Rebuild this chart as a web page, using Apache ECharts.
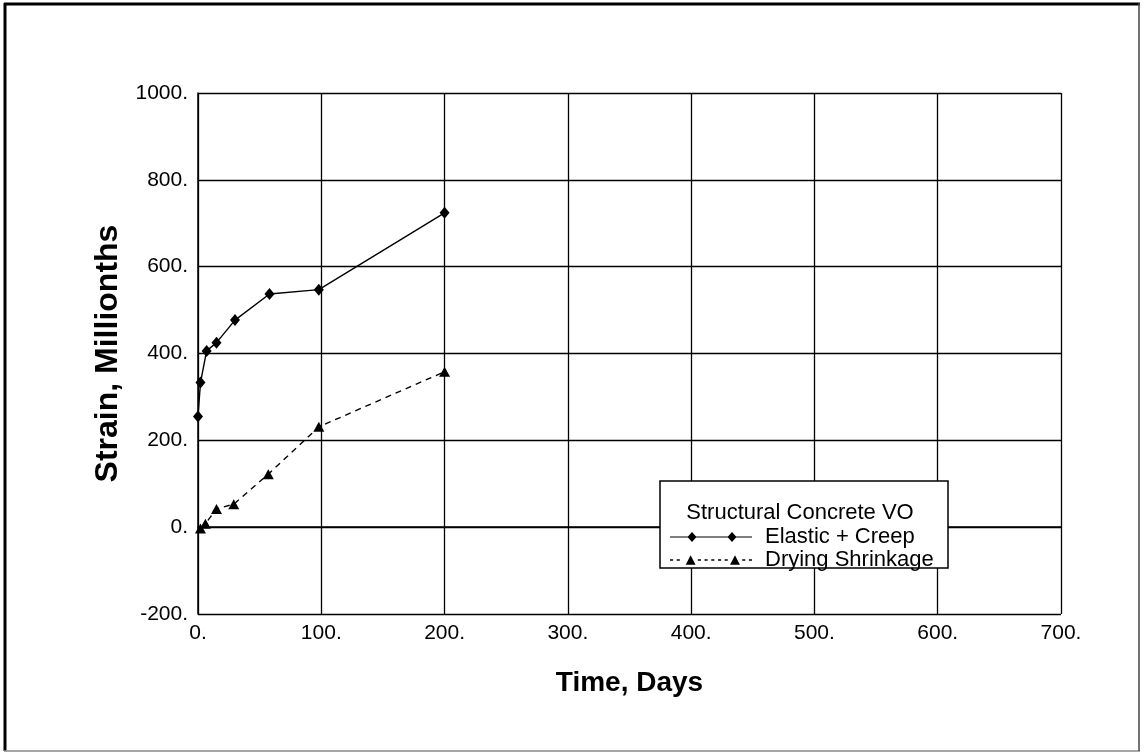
<!DOCTYPE html>
<html>
<head>
<meta charset="utf-8">
<script src="https://cdn.jsdelivr.net/npm/echarts@6/dist/echarts.min.js"></script>
<style>
  html, body { margin: 0; padding: 0; background: #fff; }
  #chart { width: 1144px; height: 753px; }
</style>
</head>
<body>
<div id="chart"></div>
<script>
// Strain measurements for the VO structural concrete specimens
const elasticDays = [0, 2, 7, 15, 30, 58, 98, 200];
const elasticStrain = [255, 333, 406, 425, 477, 537, 547, 724];
const shrinkDays = [2, 6, 15, 29, 57, 98, 200];
const shrinkStrain = [-3, 8, 42, 53, 122, 231, 358];

const xTicks = [0, 100, 200, 300, 400, 500, 600, 700];
const yTicks = [-200, 0, 200, 400, 600, 800, 1000];

const legendTitle = 'Structural Concrete VO';
const seriesNames = ['Elastic + Creep', 'Drying Shrinkage'];

const FONT = '"Liberation Sans", Arial, Helvetica, sans-serif';

// Legend sample icons: a line with two markers, 82 x 10 box
function diamond(cx) {
  return 'M' + cx + ',0 L' + (cx + 4.5) + ',5 L' + cx + ',10 L' + (cx - 4.5) + ',5 Z ';
}
function triangle(cx) {
  return 'M' + cx + ',0.5 L' + (cx + 4.8) + ',9.5 L' + (cx - 4.8) + ',9.5 Z ';
}
const solidIcon = 'path://M0,4.4 L82,4.4 L82,5.6 L0,5.6 Z ' + diamond(22) + diamond(62);
let dashed = '';
[0, 6.5, 27, 33.5, 40, 46.5, 53, 70, 76.5].forEach(function (s) {
  dashed += 'M' + s + ',4.3 L' + (s + 3) + ',4.3 L' + (s + 3) + ',5.7 L' + s + ',5.7 Z ';
});
const dashIcon = 'path://' + dashed + triangle(20) + triangle(63);

const pairs = (xs, ys) => xs.map((x, i) => [x, ys[i]]);

const chart = echarts.init(document.getElementById('chart'), null, { renderer: 'canvas' });

chart.setOption({
  animation: false,
  backgroundColor: '#ffffff',
  textStyle: { fontFamily: FONT, color: '#000' },
  grid: { left: 198, top: 93, right: 83, bottom: 139, containLabel: false },
  xAxis: {
    type: 'value',
    min: xTicks[0],
    max: xTicks[xTicks.length - 1],
    interval: 100,
    name: 'Time, Days',
    nameLocation: 'middle',
    nameGap: 55,
    nameTextStyle: { fontFamily: FONT, fontSize: 28, fontWeight: 'bold', color: '#000' },
    axisLine: { show: true, lineStyle: { color: '#000', width: 1.5 } },
    axisTick: { show: false },
    axisLabel: { fontFamily: FONT, fontSize: 21, color: '#000', margin: 9, formatter: v => v + '.' },
    splitLine: { show: true, lineStyle: { color: '#000', width: 1.3 } }
  },
  yAxis: {
    type: 'value',
    min: yTicks[0],
    max: yTicks[yTicks.length - 1],
    interval: 200,
    name: 'Strain, Millionths',
    nameLocation: 'middle',
    nameGap: 66,
    nameRotate: 90,
    nameTextStyle: { fontFamily: FONT, fontSize: 32, fontWeight: 'bold', color: '#000' },
    axisLine: { show: true, lineStyle: { color: '#000', width: 1.5 } },
    axisTick: { show: false },
    axisLabel: { fontFamily: FONT, fontSize: 21, color: '#000', margin: 10, formatter: v => v + '.' },
    splitLine: { show: true, lineStyle: { color: '#000', width: 1.3 } }
  },
  legend: {
    orient: 'vertical',
    left: 670,
    top: 526,
    itemWidth: 82,
    itemHeight: 10,
    itemGap: 1,
    padding: 0,
    z: 10,
    selectedMode: false,
    textStyle: { fontFamily: FONT, fontSize: 22, color: '#000', padding: [0, 0, 0, 8] },
    itemStyle: { borderWidth: 0 },
    data: [
      { name: seriesNames[0], icon: solidIcon },
      { name: seriesNames[1], icon: dashIcon }
    ]
  },
  graphic: [
    // legend box
    {
      type: 'rect', z: 8,
      shape: { x: 660, y: 481, width: 288, height: 87 },
      style: { fill: '#fff', stroke: '#000', lineWidth: 1.5 }
    },
    {
      type: 'text', z: 11,
      x: 800, y: 513,
      style: {
        text: legendTitle, fill: '#000', font: '22px ' + FONT,
        textAlign: 'center', textVerticalAlign: 'middle'
      }
    },
    // page frame
    { type: 'line', z: 20, shape: { x1: 4, y1: 4, x2: 1140, y2: 4 }, style: { stroke: '#000', lineWidth: 3 } },
    { type: 'line', z: 20, shape: { x1: 5, y1: 3, x2: 5, y2: 751 }, style: { stroke: '#000', lineWidth: 3 } },
    { type: 'line', z: 20, shape: { x1: 4, y1: 751, x2: 1140, y2: 751 }, style: { stroke: '#888', lineWidth: 1.5 } },
    { type: 'line', z: 20, shape: { x1: 1139, y1: 3, x2: 1139, y2: 751 }, style: { stroke: '#444', lineWidth: 1.5 } }
  ],
  series: [
    {
      name: seriesNames[0],
      type: 'line',
      data: pairs(elasticDays, elasticStrain),
      symbol: 'diamond',
      symbolSize: [10, 12],
      z: 3,
      itemStyle: { color: '#000', borderWidth: 0 },
      lineStyle: { color: '#000', width: 1.4, type: 'solid' }
    },
    {
      name: seriesNames[1],
      type: 'line',
      data: pairs(shrinkDays, shrinkStrain),
      symbol: 'triangle',
      symbolSize: [11, 10],
      z: 3,
      itemStyle: { color: '#000', borderWidth: 0 },
      lineStyle: { color: '#000', width: 1.4, type: [6, 5] }
    }
  ]
});
</script>
</body>
</html>
